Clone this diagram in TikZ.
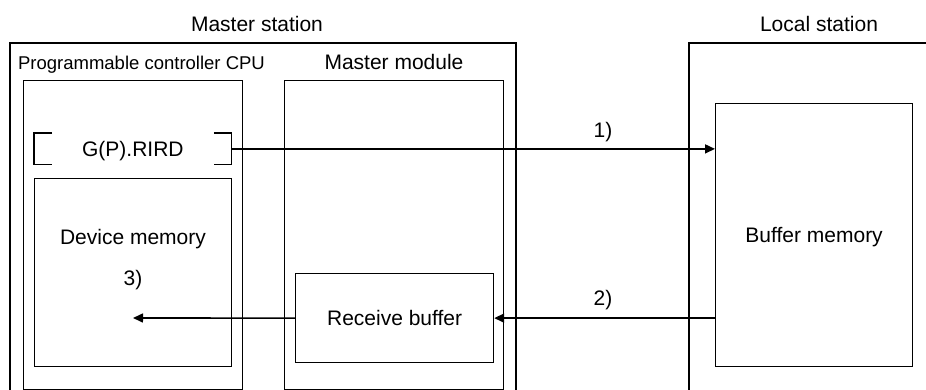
\documentclass[tikz,border=0pt]{standalone}
\usepackage{fontspec}
\setmainfont{Liberation Sans}
\usetikzlibrary{calc, arrows.meta}

\begin{document}
\begin{tikzpicture}[x=0.5pt, y=-0.5pt,
    txt/.style={inner sep=0pt, text height=0.716em, text depth=0pt,
      font=\fontsize{10.5}{12}\selectfont},
    blk/.style={txt, draw, line width=0.6pt, anchor=north west},
    flow/.style={line width=0.8pt, -{Triangle[length=5pt, width=4.5pt]}}]
      \useasboundingbox (0,0) rectangle (926,390);

      % 1. 外框：master station 與 local station（下方開口）
      \draw[line width=0.6pt] (10,392) |- (516,43) -- (516,392);
      \draw[line width=0.6pt] (689,392) |- (930,43);
      \node[txt] (ms_title) at (257,24) {Master station};
      \node[txt] (ls_title) at (819,24) {Local station};

      % 2. CPU 與 master module
      \node[blk, minimum width=109.5pt, minimum height=154.5pt] (cpu) at (23,80) {};
      \node[blk, minimum width=109.5pt, minimum height=154.5pt] (mmod) at (284,80) {};
      \node[txt, font=\fontsize{9.25}{11}\selectfont] (cpu_title) at (141.5,62) {Programmable controller CPU};
      \node[txt] (mmod_title) at (394,62) {Master module};

      % 3. 指令 G(P).RIRD 與其括號
      \node[txt, anchor=north west, minimum width=98.5pt, minimum height=15.5pt] (rird) at (34,133) {G(P).RIRD};
      \draw[line width=0.6pt] ($(rird.north west)+(18,0)$) -| (rird.south west) -- ++(18,0);
      \draw[line width=0.6pt] ($(rird.north east)+(-18,0)$) -| (rird.south east) -- ++(-18,0);

      % 4. 各記憶體區塊
      \node[blk, minimum width=98.5pt, minimum height=94pt] (devmem) at (34,178) {};
      \node[txt] (devmem_lbl) at (133,237) {Device memory};
      \node[blk, minimum width=99pt, minimum height=44.5pt] (recv) at (295,273) {Receive buffer};
      \node[blk, minimum width=98.5pt, minimum height=131.5pt] (bufmem) at (715,103) {Buffer memory};

      % 5. 資料流向
      \coordinate (devin) at (133,318);
      \draw[flow] (rird.east) -- (rird.east -| bufmem.west);
      \draw[flow] (bufmem.west |- recv.east) -- (recv.east);
      \draw[flow] (recv.west) -- (devin);
      \node[txt] (step_a) at (603,130) {1)};
      \node[txt] (step_b) at (603,298) {2)};
      \node[txt] (step_c) at (133,278) {3)};
\end{tikzpicture}
\end{document}
